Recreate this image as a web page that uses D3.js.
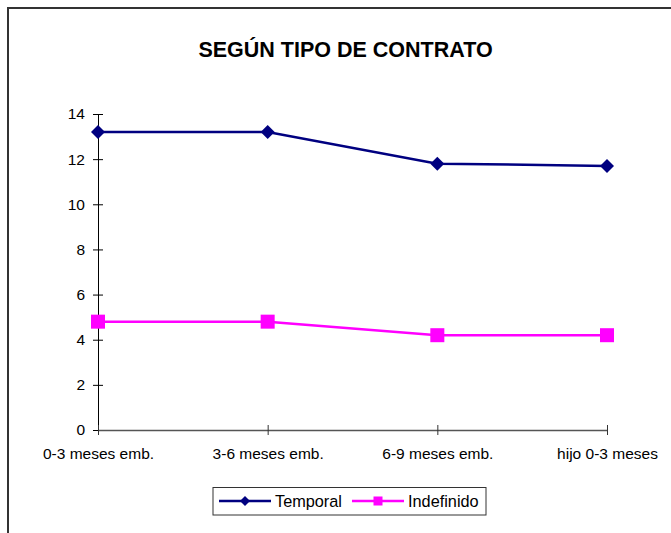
<!DOCTYPE html>
<html>
<head>
<meta charset="utf-8">
<script src="https://cdn.jsdelivr.net/npm/d3@7"></script>
<style>
	body { margin: 0; background: #fff; }
	svg { display: block; }
	svg text { font-family: Arial, "Liberation Sans", sans-serif; }
</style>
</head>
<body>
<div id="chart"></div>
<script>
const categories = ['0-3 meses emb.', '3-6 meses emb.', '6-9 meses emb.', 'hijo 0-3 meses']
const temporal = [13.2, 13.2, 11.8, 11.7]
const indefinido = [4.8, 4.8, 4.2, 4.2]
const yTicks = [0, 2, 4, 6, 8, 10, 12, 14]

const series = [
	{ name: 'Temporal', values: temporal, color: '#000080', shape: 'diamond' },
	{ name: 'Indefinido', values: indefinido, color: '#ff00ff', shape: 'square' }
]

const width = 671
const height = 533

const svg = d3.select('#chart')
	.append('svg')
	.attr('width', width)
	.attr('height', height)

// outer frame, runs off the right and bottom edge like the original
svg.append('rect')
	.attr('x', 8)
	.attr('y', 8)
	.attr('width', 700)
	.attr('height', 560)
	.attr('fill', 'none')
	.attr('stroke', '#333')
	.attr('stroke-width', 2)

svg.append('text')
	.attr('x', 345.5)
	.attr('y', 57)
	.attr('text-anchor', 'middle')
	.style('font-size', '21.5px')
	.style('font-weight', 'bold')
	.text('SEGÚN TIPO DE CONTRATO')

const x = d3.scalePoint()
	.domain(categories)
	.range([98, 607])

const y = d3.scaleLinear()
	.domain([0, 14])
	.range([430, 114])

// y axis
const yAxis = svg.append('g')
	.attr('transform', 'translate(98,0)')
	.call(d3.axisLeft(y).tickValues(yTicks).tickSize(0).tickPadding(13))
yAxis.select('.domain').attr('stroke', '#000')
yAxis.selectAll('.tick line')
	.attr('x1', -5)
	.attr('x2', 5)
	.attr('stroke', '#000')
yAxis.selectAll('.tick text')
	.style('font-size', '15.5px')
	.attr('fill', '#000')

// x axis
const xAxis = svg.append('g')
	.attr('transform', 'translate(0,430)')
	.call(d3.axisBottom(x).tickSize(0).tickPadding(18))
xAxis.select('.domain').attr('stroke', '#555').attr('stroke-width', 1.5)
xAxis.selectAll('.tick line')
	.attr('y1', -5)
	.attr('y2', 5)
	.attr('stroke', '#333')
xAxis.selectAll('.tick text')
	.style('font-size', '15.5px')
	.attr('fill', '#000')

const line = d3.line()
	.x((d, i) => x(categories[i]))
	.y(d => y(d))

function marker(sel, shape, size, color) {
	if (shape === 'diamond') {
		sel.append('path')
			.attr('d', d3.symbol().type(d3.symbolSquare).size(size * size / 2)())
			.attr('transform', 'rotate(45)')
			.attr('fill', color)
	} else {
		sel.append('rect')
			.attr('x', -size / 2)
			.attr('y', -size / 2)
			.attr('width', size)
			.attr('height', size)
			.attr('fill', color)
	}
}

series.forEach(s => {
	svg.append('path')
		.datum(s.values)
		.attr('d', line)
		.attr('fill', 'none')
		.attr('stroke', s.color)
		.attr('stroke-width', 2.5)

	svg.selectAll(null)
		.data(s.values)
		.enter()
		.append('g')
		.attr('transform', (d, i) => `translate(${x(categories[i])},${y(d)})`)
		.each(function () {
			marker(d3.select(this), s.shape, 14, s.color)
		})
})

// legend
svg.append('rect')
	.attr('x', 213)
	.attr('y', 487.5)
	.attr('width', 273)
	.attr('height', 27.5)
	.attr('fill', '#fff')
	.attr('stroke', '#333')
	.attr('stroke-width', 1)

const legendX = [219, 352]
series.forEach((s, i) => {
	const g = svg.append('g').attr('transform', `translate(${legendX[i]},501)`)
	g.append('line')
		.attr('x1', 0)
		.attr('x2', 52)
		.attr('stroke', s.color)
		.attr('stroke-width', 2.5)
	const m = g.append('g').attr('transform', 'translate(26,0)')
	marker(m, s.shape, s.shape === 'diamond' ? 10 : 9, s.color)
	g.append('text')
		.attr('x', 56)
		.attr('y', 6)
		.style('font-size', '16.3px')
		.text(s.name)
})
</script>
</body>
</html>
